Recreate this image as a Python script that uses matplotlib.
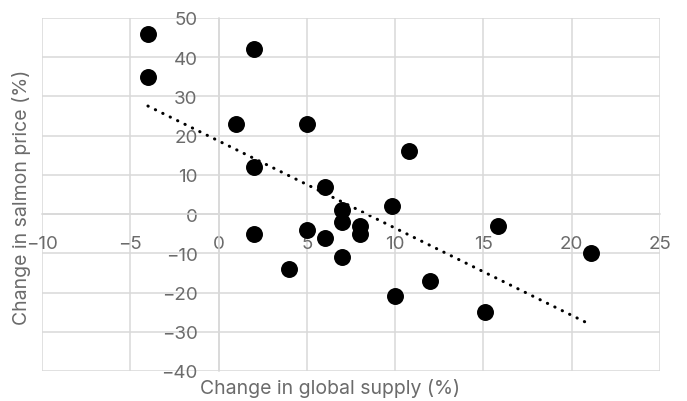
import matplotlib
matplotlib.use("Agg")
import matplotlib.pyplot as plt
import numpy as np

# change in global supply (%) vs change in salmon price (%)
supply_change = [-4, -4, 2, 1, 5, 2, 10.8, 6, 7, 7, 8, 8, 9.8, 2, 5, 6, 7, 4, 10, 12, 15.1, 15.8, 21.1]
price_change = [46, 35, 42, 23, 23, 12, 16, 7, 1, -2, -3, -5, 2, -5, -4, -6, -11, -14, -21, -17, -25, -3, -10]

x_ticks = [-10, -5, 0, 5, 10, 15, 20, 25]
y_ticks = [-40, -30, -20, -10, 0, 10, 20, 30, 40, 50]

GRID = "#d9d9d9"
TEXT = "#6b6b6b"

plt.rcParams["font.family"] = ["Inter", "DejaVu Sans"]

fig = plt.figure(figsize=(6.87, 4.02), dpi=100)
ax = fig.add_axes([42 / 687, 1 - 372 / 402, (660 - 42) / 687, (372 - 19) / 402])

ax.set_xlim(x_ticks[0], x_ticks[-1])
ax.set_ylim(y_ticks[0], y_ticks[-1])
ax.set_xticks(x_ticks)
ax.set_yticks(y_ticks)

ax.grid(True, color=GRID, linewidth=1.1)
ax.set_axisbelow(True)
for line in ax.get_xgridlines() + ax.get_ygridlines():
    line.set_clip_on(False)

for side in ["top", "right"]:
    ax.spines[side].set_visible(False)
ax.spines["left"].set_position("zero")
ax.spines["bottom"].set_position("zero")
ax.spines["left"].set_color(GRID)
ax.spines["bottom"].set_color(GRID)
ax.spines["left"].set_linewidth(1.1)
ax.spines["bottom"].set_linewidth(1.1)

ax.tick_params(axis="both", length=0, labelsize=13.5, labelcolor=TEXT)
ax.tick_params(axis="y", pad=15)
ax.tick_params(axis="x", pad=15)

ax.scatter(supply_change, price_change, s=125, color="black", zorder=3, clip_on=False)

# linear trendline across the data range
slope, intercept = np.polyfit(supply_change, price_change, 1)
xs = np.array([min(supply_change), max(supply_change)])
ax.plot(xs, slope * xs + intercept, color="black", linewidth=2.2,
        linestyle=(0, (0.1, 2.6)), dash_capstyle="round", zorder=2)

fig.text(330 / 687, 1 - 389 / 402, "Change in global supply (%)", ha="center", va="center",
         fontsize=14, color=TEXT)
fig.text(22 / 687, 1 - 197 / 402, "Change in salmon price (%)", ha="center", va="center",
         rotation=90, fontsize=14, color=TEXT)

fig.savefig("out.png", dpi=100)
